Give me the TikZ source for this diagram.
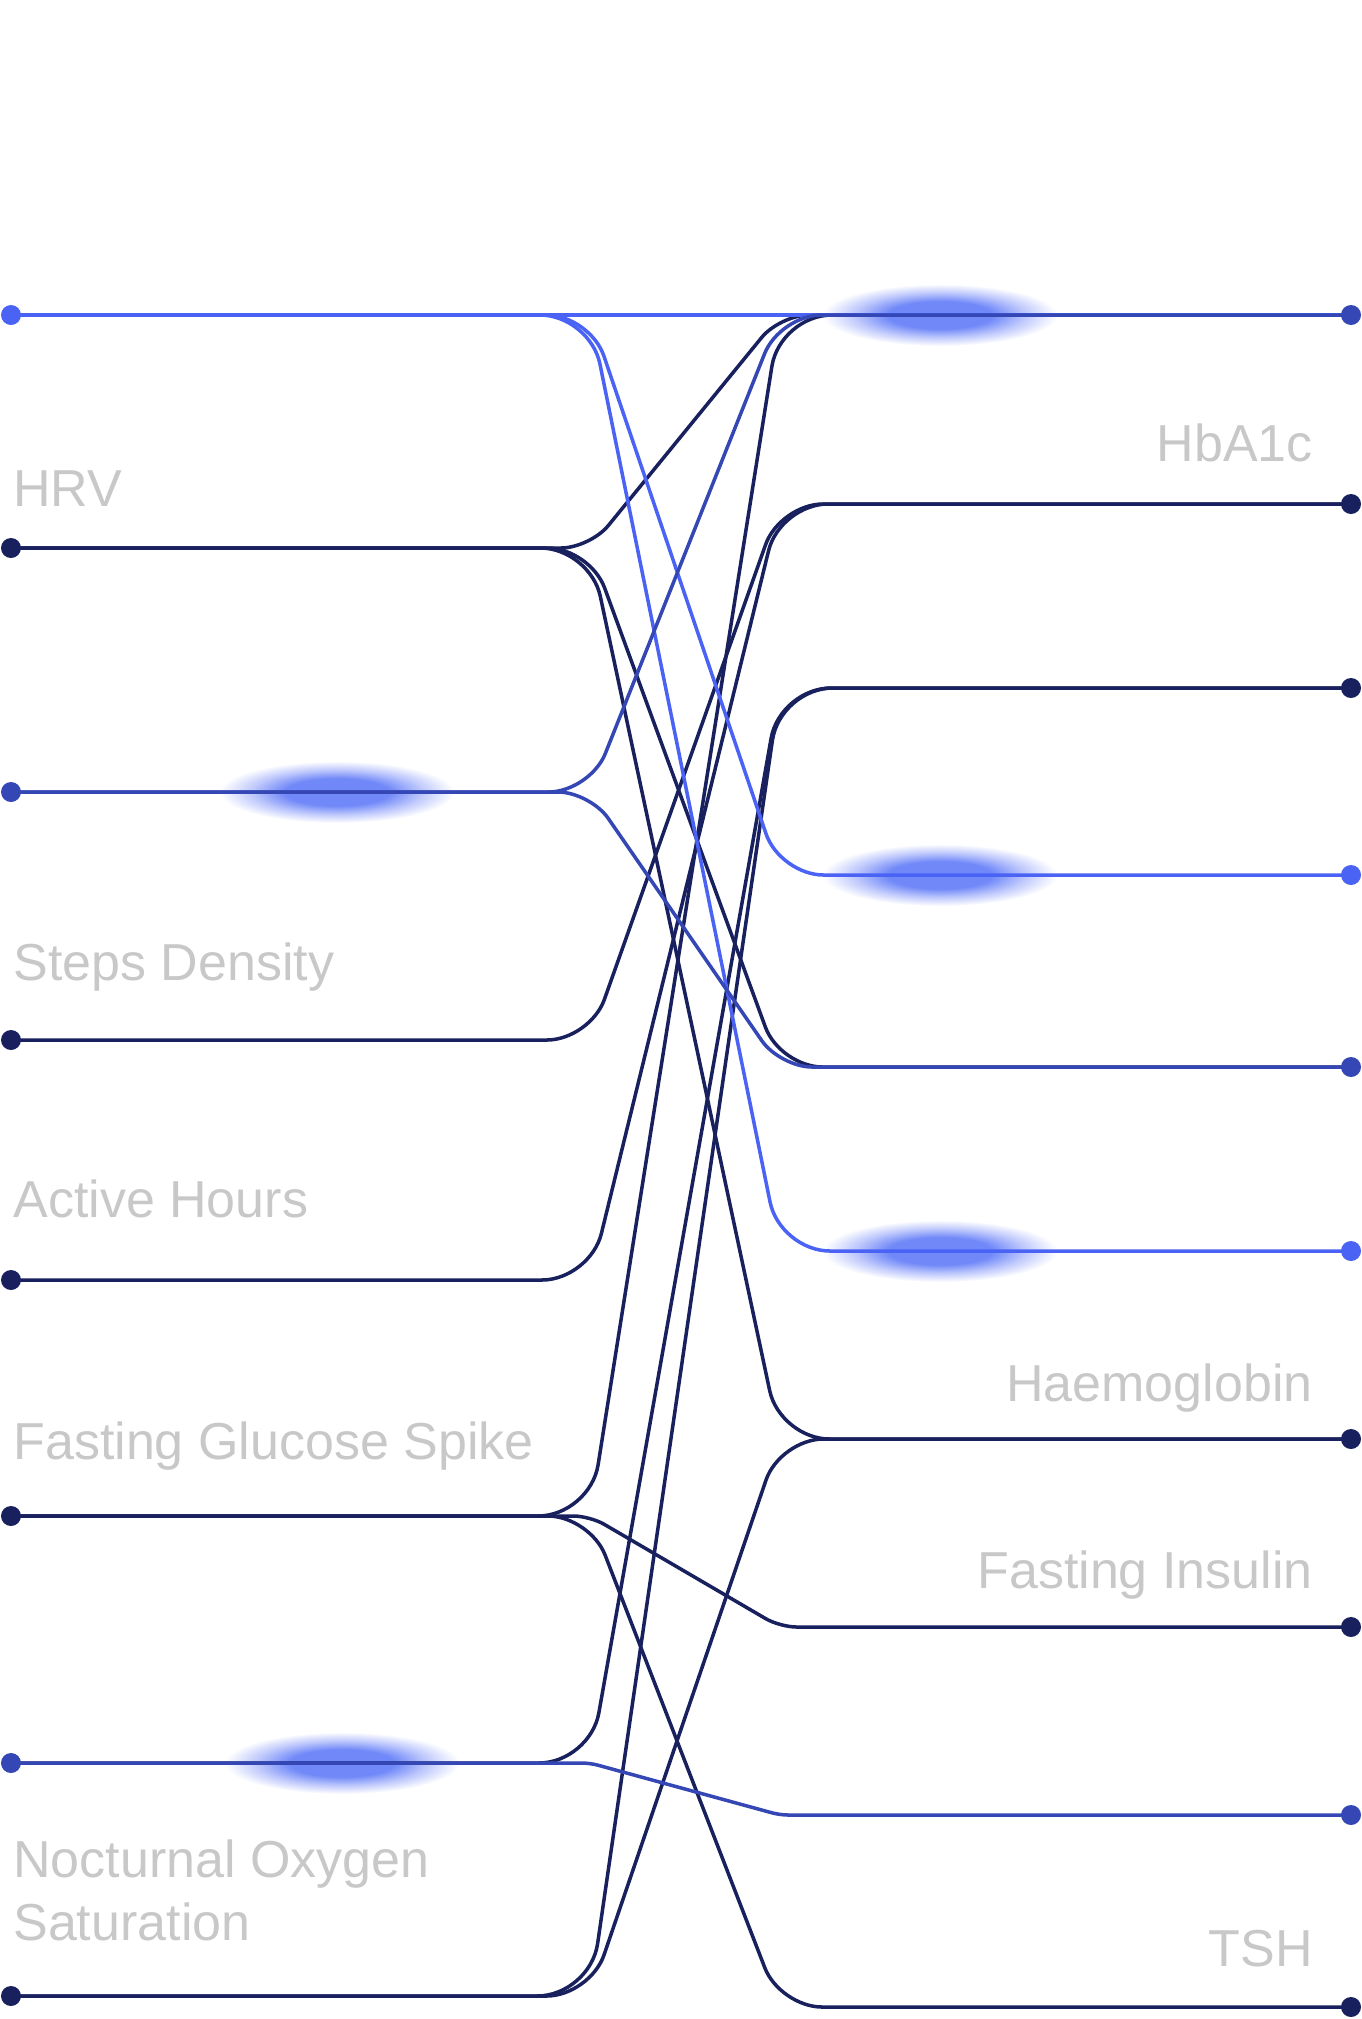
\documentclass[tikz,border=0pt]{standalone}
\usepackage{fontspec}
\setmainfont{Liberation Sans}

\definecolor{bright}{RGB}{74,99,245}
\definecolor{mid}{RGB}{52,71,181}
\definecolor{navy}{RGB}{24,33,94}
\definecolor{glowblue}{RGB}{112,136,248}
\definecolor{glowpale}{RGB}{190,200,252}
\definecolor{labgray}{RGB}{200,200,200}
\pgfdeclareradialshading{glowshade}{\pgfpointorigin}{color(0bp)=(glowblue); color(11bp)=(glowblue); color(18bp)=(glowpale); color(25bp)=(white); color(50bp)=(white)}

\begin{document}
\begin{tikzpicture}[x=0.02cm,y=-0.02cm,
 link/.style={line width=2pt,rounded corners=#1},
 dot/.style={circle,fill=#1,inner sep=0pt,minimum size=0.4cm},
 lab/.style={text=labgray,font=\fontsize{29.6}{35.8}\selectfont,inner sep=0pt},
 glow/.style={shading=glowshade}]
 \useasboundingbox (0,0) rectangle (1362,2019);
 \coordinate (ml) at (590,0);
 \coordinate (mr) at (780,0);
 \coordinate (L1) at (11,315);
 \coordinate (L2) at (11,548);
 \coordinate (L3) at (11,792);
 \coordinate (L4) at (11,1040);
 \coordinate (L5) at (11,1280);
 \coordinate (L6) at (11,1516);
 \coordinate (L7) at (11,1763);
 \coordinate (L8) at (11,1996);
 \coordinate (R1) at (1351,315);
 \coordinate (R2) at (1351,504);
 \coordinate (R3) at (1351,688);
 \coordinate (R4) at (1351,875);
 \coordinate (R5) at (1351,1067);
 \coordinate (R6) at (1351,1251);
 \coordinate (R7) at (1351,1439);
 \coordinate (R8) at (1351,1627);
 \coordinate (R9) at (1351,1815);
 \coordinate (R10) at (1351,2007);

 \shade[glow] (940,315) ellipse (2.35cm and 0.62cm);
 \shade[glow] (337,792) ellipse (2.35cm and 0.62cm);
 \shade[glow] (940,875) ellipse (2.35cm and 0.62cm);
 \shade[glow] (940,1251) ellipse (2.35cm and 0.62cm);
 \shade[glow] (342,1763) ellipse (2.35cm and 0.62cm);

 \draw[link=0.58cm,navy] (L2) -- (L2 -| ml) -- (R1 -| mr) -- (R1);
 \draw[link=0.85cm,navy] (L2) -- (L2 -| ml) -- (R5 -| mr) -- (R5);
 \draw[link=0.99cm,navy] (L2) -- (L2 -| ml) -- (R7 -| mr) -- (R7);
 \draw[link=0.86cm,navy] (L4) -- (L4 -| ml) -- (R2 -| mr) -- (R2);
 \draw[link=0.96cm,navy] (L5) -- (L5 -| ml) -- (R2 -| mr) -- (R2);
 \draw[link=1.04cm,navy] (L6) -- (L6 -| ml) -- (R1 -| mr) -- (R1);
 \draw[link=0.33cm,navy] (L6) -- (L6 -| ml) -- (R8 -| mr) -- (R8);
 \draw[link=0.84cm,navy] (L6) -- (L6 -| ml) -- (R10 -| mr) -- (R10);
 \draw[link=1.02cm,navy] (L7) -- (L7 -| ml) -- (R3 -| mr) -- (R3);
 \draw[link=1.06cm,navy] (L8) -- (L8 -| ml) -- (R3 -| mr) -- (R3);
 \draw[link=0.87cm,navy] (L8) -- (L8 -| ml) -- (R7 -| mr) -- (R7);
 \draw[link=0cm,bright] (L1) -- (R1);
 \draw[link=0.87cm,bright] (L1) -- (L1 -| ml) -- (R4 -| mr) -- (R4);
 \draw[link=1.0cm,bright] (L1) -- (L1 -| ml) -- (R6 -| mr) -- (R6);
 \draw[link=0.83cm,mid] (L3) -- (L3 -| ml) -- (R1 -| mr) -- (R1);
 \draw[link=0.64cm,mid] (L3) -- (L3 -| ml) -- (R5 -| mr) -- (R5);
 \draw[link=0.16cm,mid] (L7) -- (L7 -| ml) -- (R9 -| mr) -- (R9);

 \node[dot=bright] (l1) at (L1) {};
 \node[dot=navy] (l2) at (L2) {};
 \node[dot=mid] (l3) at (L3) {};
 \node[dot=navy] (l4) at (L4) {};
 \node[dot=navy] (l5) at (L5) {};
 \node[dot=navy] (l6) at (L6) {};
 \node[dot=mid] (l7) at (L7) {};
 \node[dot=navy] (l8) at (L8) {};
 \node[dot=mid] (r1) at (R1) {};
 \node[dot=navy] (r2) at (R2) {};
 \node[dot=navy] (r3) at (R3) {};
 \node[dot=bright] (r4) at (R4) {};
 \node[dot=mid] (r5) at (R5) {};
 \node[dot=bright] (r6) at (R6) {};
 \node[dot=navy] (r7) at (R7) {};
 \node[dot=navy] (r8) at (R8) {};
 \node[dot=mid] (r9) at (R9) {};
 \node[dot=navy] (r10) at (R10) {};

 \node[lab,anchor=base west] (hrv) at (13,506) {HRV};
 \node[lab,anchor=base west] (steps) at (13,980) {Steps Density};
 \node[lab,anchor=base west] (active) at (13,1217) {Active Hours};
 \node[lab,anchor=base west] (glucose) at (13,1459) {Fasting Glucose Spike};
 \node[lab,anchor=base west,align=left] (oxygen) at (13,1940) {Nocturnal Oxygen\\Saturation};
 \node[lab,anchor=base east] (hba) at (1313,461) {HbA1c};
 \node[lab,anchor=base east] (haem) at (1313,1401) {Haemoglobin};
 \node[lab,anchor=base east] (insulin) at (1313,1588) {Fasting Insulin};
 \node[lab,anchor=base east] (tsh) at (1313,1966) {TSH};
\end{tikzpicture}
\end{document}
